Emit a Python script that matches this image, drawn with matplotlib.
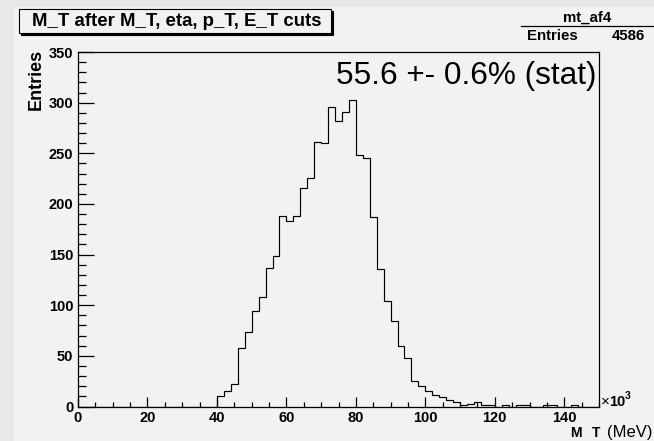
import numpy as np
import matplotlib
matplotlib.use("Agg")
import matplotlib.pyplot as plt
from matplotlib.patches import Rectangle
from matplotlib.lines import Line2D

# ---------------- data ----------------
bin_edges_k = np.arange(0, 152, 2)          # M_T bin edges in units of 10^3 MeV
counts = [
    0, 0, 0, 0, 0, 0, 0, 0, 0, 0,            # 0-20
    0, 0, 0, 0, 0, 0, 0, 0, 0, 0,            # 20-40
    10, 15, 22, 58, 74, 94, 108, 137, 149, 188,   # 40-60
    183, 188, 216, 226, 261, 260, 296, 282, 291, 303,  # 60-80
    248, 245, 187, 136, 104, 84, 60, 48, 25, 20,   # 80-100
    15, 11, 9, 6, 4, 1, 2, 4, 1, 1,          # 100-120
    0, 1, 0, 1, 1, 0, 0, 1, 1, 0,            # 120-140
    0, 1, 0, 0, 0,                           # 140-150
]
hist_name = "mt_af4"
n_entries = 4586
title = "M_T after M_T, eta, p_T, E_T cuts"
annotation = "55.6 +- 0.6% (stat)"
x_major = [0, 20, 40, 60, 80, 100, 120, 140]
y_major = [0, 50, 100, 150, 200, 250, 300, 350]

# ---------------- layout ----------------
W, H = 654, 441
DPI = 100
plt.rcParams["font.family"] = ["Liberation Sans", "DejaVu Sans"]
fig = plt.figure(figsize=(W / DPI, H / DPI), dpi=DPI, facecolor="#e8e8e8")

def fx(x):
    return x / W

def fy(y):
    return 1 - y / H

# pad background
fig.patches.append(Rectangle((fx(14), 0), 1 - fx(14), fy(7), transform=fig.transFigure,
                             facecolor="#f2f2f2", edgecolor="none", zorder=-5))

ax_l, ax_r, ax_t, ax_b = 78, 599, 52, 406.5
ax = fig.add_axes([fx(ax_l), fy(ax_b), fx(ax_r - ax_l), (ax_b - ax_t) / H])
ax.set_zorder(1)
ax.set_facecolor("#f2f2f2")

ax.stairs(counts, bin_edges_k, color="black", linewidth=0.85)
ax.set_xlim(0, 150)
ax.set_ylim(0, 350)

ax.set_xticks(x_major)
ax.set_xticks(np.arange(0, 151, 5), minor=True)
ax.set_yticks(y_major)
ax.set_yticks(np.arange(0, 351, 10), minor=True)
ax.set_xticklabels([str(v) for v in x_major])
ax.set_yticklabels([str(v) for v in y_major])

ax.tick_params(axis="x", which="major", direction="in", length=7.4, width=0.9,
               pad=3.0, labelsize=10.5, top=False)
ax.tick_params(axis="x", which="minor", direction="in", length=3.7, width=0.9, top=False)
ax.tick_params(axis="y", which="major", direction="in", length=11.3, width=0.9,
               pad=3.3, labelsize=10.5, right=False)
ax.tick_params(axis="y", which="minor", direction="in", length=5.6, width=0.9, right=False)
for lab in ax.get_xticklabels() + ax.get_yticklabels():
    lab.set_fontweight("bold")
for sp in ax.spines.values():
    sp.set_linewidth(0.9)
    sp.set_color("black")

# y-axis title
fig.text(fx(36.5), fy(49), "Entries", rotation=90, ha="center", va="top",
         fontsize=13, fontweight="bold")

# x-axis title
fig.text(fx(570), fy(437), "M", ha="left", va="baseline", fontsize=10, fontweight="bold")
fig.text(fx(592), fy(437), "T", ha="left", va="baseline", fontsize=10, fontweight="bold")
fig.text(fx(652), fy(437), "(MeV)", ha="right", va="baseline", fontsize=12)

# x10^3 multiplier
fig.text(fx(601), fy(406), "\u00d7", ha="left", va="baseline", fontsize=11)
fig.text(fx(609), fy(406), "10", ha="left", va="baseline", fontsize=10.5, fontweight="bold")
fig.text(fx(625), fy(399), "3", ha="left", va="baseline", fontsize=7.5, fontweight="bold")

# title box with shadow
tb_l, tb_t, tb_r, tb_b = 19, 9, 331, 33
fig.patches.append(Rectangle((fx(tb_l + 2), fy(tb_b + 2)), fx(tb_r - tb_l), (tb_b - tb_t) / H,
                             transform=fig.transFigure, facecolor="black",
                             edgecolor="black", linewidth=0.8, zorder=1))
fig.patches.append(Rectangle((fx(tb_l), fy(tb_b)), fx(tb_r - tb_l), (tb_b - tb_t) / H,
                             transform=fig.transFigure, facecolor="#f2f2f2",
                             edgecolor="black", linewidth=0.8, zorder=2))
fig.text(fx(177), fy(21.5), title, ha="center", va="center",
         fontsize=13.4, fontweight="bold", zorder=3)

# stats box
fig.text(fx(587), fy(22), hist_name, ha="center", va="baseline", fontsize=10.8, fontweight="bold")
fig.lines.append(Line2D([fx(521), fx(654)], [fy(26), fy(26)], transform=fig.transFigure,
                        color="black", linewidth=0.9))
fig.text(fx(527), fy(40), "Entries", ha="left", va="baseline", fontsize=10.8, fontweight="bold")
fig.text(fx(645), fy(40), str(n_entries), ha="right", va="baseline", fontsize=10.8, fontweight="bold")

# annotation
fig.text(fx(597), fy(84), annotation, ha="right", va="baseline", fontsize=22.7, zorder=5)

fig.savefig("out.png", dpi=DPI, facecolor=fig.get_facecolor())
